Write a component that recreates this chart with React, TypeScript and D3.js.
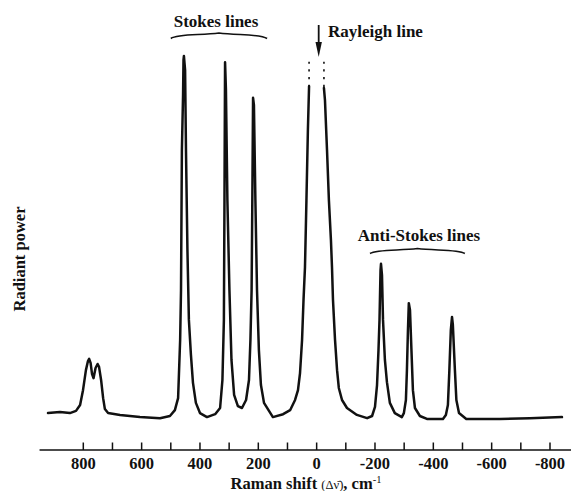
import React from "react";
import * as d3 from "d3";

// Raman shift (cm^-1) and relative radiant power
const shifts: number[] = [
  921, 880, 846, 825, 811, 801, 791, 784, 780, 775, 770, 765, 758, 751, 746, 739, 732, 726, 715, 674,
  606, 537, 503, 486, 475, 468, 465, 462, 458, 456.5, 455, 451, 448, 443, 438, 431, 424, 414, 400, 376,
  348, 331, 323, 318, 316, 314, 311, 306, 299, 292, 283, 270, 256, 242, 232, 227, 223, 220, 218, 215,
  210, 204.5, 198, 191, 180.5, 150, 115, 91, 74, 64, 57, 50, 45, 40, 35, 30, 26,
  0,
  -25, -28.5, -35.5, -42, -49, -52.6, -56, -63, -70, -76, -87, -104, -138, -173, -190,
  -200, -207, -212, -215.5, -219, -220.6, -224, -227.5, -234, -241, -251, -268, -292, -299, -306,
  -309.5, -313, -316, -320, -325, -330, -337, -354, -378, -433, -443, -450, -455, -460, -464, -467,
  -474, -479, -488, -513, -628, -731, -841,
];
const intensities: (number | null)[] = [
  1.9, 2.2, 1.9, 2.5, 4.1, 8.2, 13.7, 16.2, 16.8, 15.7, 12.6, 11.5, 14.3, 15.4, 14.6, 11.0, 6.0, 3.0, 1.9, 1.4,
  0.8, 0.5, 1.1, 2.7, 6.0, 22.0, 35.7, 74.2, 89.3, 98.9, 100, 96.1, 74.2, 46.7, 27.5, 17.9, 10.2, 4.7, 1.9, 0.8,
  1.6, 3.3, 11.0, 27.5, 60.4, 98.3, 90.7, 60.4, 35.7, 16.5, 6.9, 3.8, 3.3, 5.5, 11.0, 22.0, 35.7, 65.9, 88.5, 86.5,
  60.4, 35.7, 19.2, 9.6, 4.7, 0.8, 1.6, 2.7, 5.5, 8.2, 12.9, 22.0, 33.0, 42.0, 60.4, 79.7, 91.7,
  null,
  91.2, 87.9, 74.2, 60.4, 49.4, 42.0, 33.0, 22.0, 13.7, 8.8, 5.5, 3.3, 1.4, 0.5, 1.1,
  3.6, 9.6, 19.2, 27.5, 41.2, 42.9, 39.8, 27.5, 16.5, 10.4, 4.7, 1.9, 0.8, 1.9, 5.5,
  13.7, 24.7, 32.1, 30.2, 19.2, 8.2, 3.3, 1.1, 0.3, 0.3, 1.4, 4.1, 13.7, 24.7, 28.3, 26.1,
  13.7, 5.5, 1.9, 0.3, 0.3, 0.5, 0.8,
];

// Off-scale Rayleigh line (dotted continuation)
const rayleighEdges: number[] = [26, -25];
const rayleighDotted: number[] = [91.5, 99.5];

const tickValues: number[] = d3.range(800, -801, -100);
const labelValues: number[] = [800, 600, 400, 200, 0, -200, -400, -600, -800];

// Annotation braces: [from shift, to shift]
const stokesBrace: number[] = [500, 170];
const antiStokesBrace: number[] = [-183, -508];

const W = 571;
const H = 491;
const FONT = "'Liberation Serif', 'Times New Roman', serif";

function bracePath(x1: number, x2: number, yb: number, h: number): string {
  const xm = (x1 + x2) / 2;
  const w = xm - x1;
  return (
    `M${x1},${yb} C${x1 + 0.15 * w},${yb - h} ${xm - 0.35 * w},${yb - h * 0.6} ${xm},${yb - h * 1.1} ` +
    `C${xm + 0.35 * w},${yb - h * 0.6} ${x2 - 0.15 * w},${yb - h} ${x2},${yb}`
  );
}

export default function App() {
  const x = d3.scaleLinear().domain([800, -800]).range([83.3, 550]);
  const y = d3.scaleLinear().domain([0, 100]).range([420, 56]);
  const axisY = 450;

  const pts = shifts.map((s, i) => ({ s, v: intensities[i] }));
  const line = d3
    .line<{ s: number; v: number | null }>()
    .defined((d) => d.v !== null)
    .x((d) => x(d.s))
    .y((d) => y(d.v as number));

  return (
    <svg
      width={W}
      height={H}
      viewBox={`0 0 ${W} ${H}`}
      style={{ position: "absolute", left: 0, top: 0, background: "#fff" }}
      fontFamily={FONT}
    >
      <rect x={0} y={0} width={W} height={H} fill="#fff" />

      {/* spectrum */}
      <path d={line(pts) || ""} fill="none" stroke="#111" strokeWidth={2.5} strokeLinejoin="round" strokeLinecap="round" />

      {/* dotted off-scale Rayleigh */}
      {rayleighEdges.map((s, i) => (
        <line
          key={i}
          x1={x(s)}
          x2={x(s)}
          y1={y(rayleighDotted[0])}
          y2={y(rayleighDotted[1])}
          stroke="#111"
          strokeWidth={1.6}
          strokeDasharray="2.2 5.5"
        />
      ))}

      {/* axis */}
      <line x1={x(950)} x2={W} y1={axisY} y2={axisY} stroke="#111" strokeWidth={1.6} />
      {tickValues.map((t) => (
        <line key={t} x1={x(t)} x2={x(t)} y1={axisY} y2={axisY - 7.5} stroke="#111" strokeWidth={1.5} />
      ))}
      {labelValues.map((t) => (
        <text key={t} x={x(t)} y={468.5} textAnchor="middle" fontSize={16.5} fontWeight="bold" fill="#111">
          {String(t)}
        </text>
      ))}
      <text x={306} y={488.5} textAnchor="middle" fontSize={16.5} fontWeight="bold" fill="#111">
        Raman shift{" "}
        <tspan fontWeight="normal" fontSize={12.5}>
          (Δν̄)
        </tspan>
        , cm
        <tspan fontSize={10.5} fontWeight="normal" dy={-6}>
          -1
        </tspan>
      </text>

      {/* y label */}
      <text
        transform="translate(25,259) rotate(-90)"
        textAnchor="middle"
        fontSize={16.5}
        fontWeight="bold"
        fill="#111"
      >
        Radiant power
      </text>

      {/* Stokes annotation */}
      <path
        d={bracePath(x(stokesBrace[0]), x(stokesBrace[1]), 38.5, 5)}
        fill="none"
        stroke="#111"
        strokeWidth={1.6}
      />
      <text x={216} y={27} textAnchor="middle" fontSize={17} fontWeight="bold" fill="#111">
        Stokes lines
      </text>

      {/* Rayleigh annotation */}
      <line x1={x(-7)} x2={x(-7)} y1={25} y2={46} stroke="#111" strokeWidth={1.8} />
      <path d={`M${x(-7) - 3.2},${42} L${x(-7) + 3.2},${42} L${x(-7)},${57} Z`} fill="#111" />
      <text x={328} y={37} fontSize={17} fontWeight="bold" fill="#111">
        Rayleigh line
      </text>

      {/* Anti-Stokes annotation */}
      <path
        d={bracePath(x(antiStokesBrace[0]), x(antiStokesBrace[1]), 253.5, 4.5)}
        fill="none"
        stroke="#111"
        strokeWidth={1.6}
      />
      <text x={419} y={241} textAnchor="middle" fontSize={17} fontWeight="bold" fill="#111">
        Anti-Stokes lines
      </text>
    </svg>
  );
}
